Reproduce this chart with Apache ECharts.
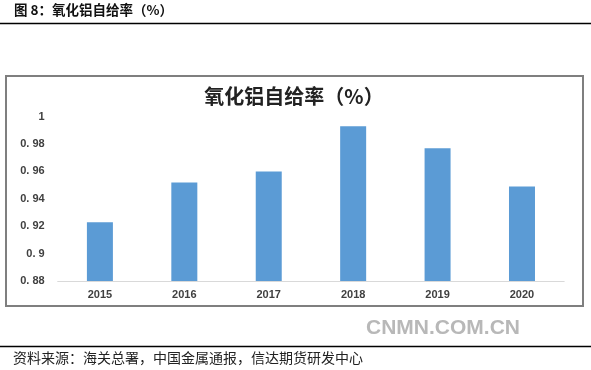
<!DOCTYPE html>
<html><head><meta charset="utf-8">
<script src="https://cdn.jsdelivr.net/npm/echarts@6/dist/echarts.min.js"></script>
<style>html,body{margin:0;padding:0;background:#fff}#c{width:591px;height:370px}</style>
</head><body><div id="c"></div>
<script>
const categories = ['2015','2016','2017','2018','2019','2020'];
const values = [0.923, 0.952, 0.960, 0.993, 0.977, 0.949];
const yTickLabels = ['0. 88','0. 9','0. 92','0. 94','0. 96','0. 98','1'];
const headerTitle = '图 8：氧化铝自给率（%）';
const chartTitle = '氧化铝自给率（%）';
const sourceText = '资料来源：海关总署，中国金属通报，信达期货研发中心';
const watermark = 'CNMN.COM.CN';

const chart = echarts.init(document.getElementById('c'), null, {renderer:'canvas'});
chart.setOption({
  animation:false,
  backgroundColor:'#fff',
  title:{text:chartTitle,left:289,top:81,textAlign:'center',
    textStyle:{fontFamily:'Noto Sans CJK SC',fontSize:20,fontWeight:'bold',color:'#222'}},
  grid:{left:57.7,right:26.8,top:116.7,bottom:89},
  xAxis:{type:'category',data:categories,
    axisLine:{lineStyle:{color:'#d9d9d9',width:1}},axisTick:{show:false},
    axisLabel:{margin:8,fontFamily:'Liberation Sans',fontWeight:'bold',fontSize:11,color:'#404040'}},
  yAxis:{type:'value',min:0.88,max:1,interval:0.02,
    axisLine:{show:false},axisTick:{show:false},splitLine:{show:false},
    axisLabel:{margin:13,fontFamily:'Liberation Sans',fontWeight:'bold',fontSize:11,color:'#404040',
      formatter:function(v){const i=Math.round((v-0.88)/0.02);return yTickLabels[i];}}},
  series:[{type:'bar',data:values,barWidth:26,itemStyle:{color:'#5b9bd5'}}],
  graphic:[
    {type:'text',left:14,top:3,style:{text:headerTitle,font:'bold 13.5px "Noto Sans CJK SC"',fill:'#111'}},
    {type:'line',shape:{x1:0,y1:23.5,x2:591,y2:23.5},style:{stroke:'#000',lineWidth:1.5}},
    {type:'rect',shape:{x:6,y:76,width:577,height:230},style:{fill:null,stroke:'#7f7f7f',lineWidth:2}},
    {type:'text',left:366,top:318,style:{text:watermark,font:'bold 21px "Liberation Sans"',fill:'#b8b8b8'}},
    {type:'line',shape:{x1:0,y1:346.5,x2:591,y2:346.5},style:{stroke:'#000',lineWidth:1.5}},
    {type:'text',left:13,top:351,style:{text:sourceText,font:'14px "Noto Sans CJK SC"',fill:'#222'}}
  ]
});
</script></body></html>
